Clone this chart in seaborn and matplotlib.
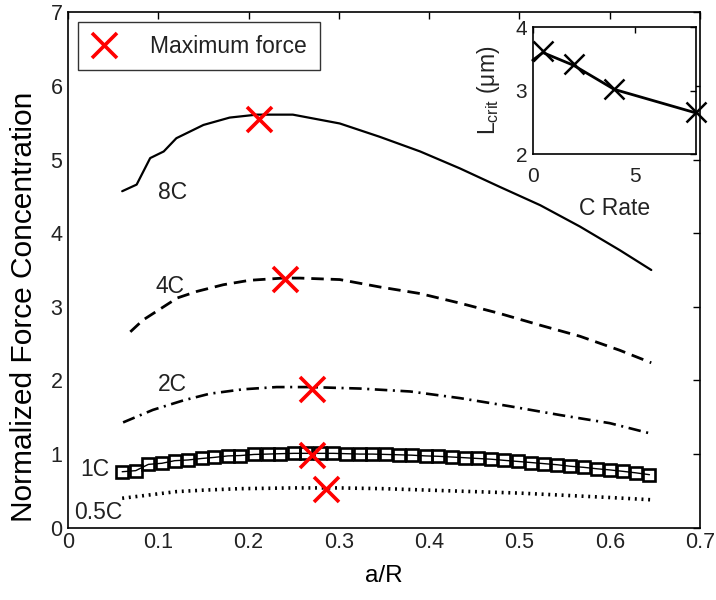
import matplotlib
matplotlib.use("Agg")
import matplotlib.pyplot as plt
import seaborn as sns

# Normalized force concentration vs. a/R for several C rates
a_8c = [0.060, 0.076, 0.091, 0.106, 0.120, 0.150, 0.179, 0.209, 0.249, 0.301, 0.345,
        0.390, 0.434, 0.478, 0.523, 0.567, 0.611, 0.646]
f_8c = [4.57, 4.66, 5.02, 5.11, 5.29, 5.47, 5.57, 5.61, 5.61, 5.49, 5.31,
        5.11, 4.88, 4.63, 4.38, 4.09, 3.77, 3.50]

a_4c = [0.069, 0.083, 0.102, 0.121, 0.143, 0.172, 0.201, 0.238, 0.257, 0.301, 0.345,
        0.390, 0.434, 0.478, 0.523, 0.567, 0.611, 0.646]
f_4c = [2.66, 2.82, 2.97, 3.12, 3.21, 3.30, 3.36, 3.39, 3.39, 3.37, 3.27,
        3.18, 3.05, 2.91, 2.75, 2.60, 2.41, 2.24]

a_2c = [0.061, 0.094, 0.128, 0.157, 0.194, 0.231, 0.268, 0.323, 0.379, 0.434,
        0.489, 0.545, 0.600, 0.645]
f_2c = [1.43, 1.60, 1.73, 1.82, 1.88, 1.91, 1.91, 1.89, 1.85, 1.76,
        1.65, 1.53, 1.42, 1.28]

a_1c = [0.060, 0.075, 0.089, 0.104, 0.118, 0.133, 0.148, 0.162, 0.177, 0.191,
        0.206, 0.221, 0.235, 0.250, 0.264, 0.279, 0.294, 0.308, 0.323, 0.337,
        0.352, 0.367, 0.381, 0.396, 0.410, 0.425, 0.440, 0.454, 0.469, 0.483,
        0.498, 0.513, 0.527, 0.542, 0.556, 0.571, 0.586, 0.600, 0.615, 0.629, 0.644]
f_1c = [0.76, 0.775, 0.86, 0.875, 0.91, 0.92, 0.94, 0.955, 0.975, 0.98,
        0.995, 1.0, 1.005, 1.01, 1.01, 1.01, 1.01, 1.005, 1.0, 1.0,
        0.995, 0.99, 0.985, 0.975, 0.97, 0.96, 0.95, 0.94, 0.93, 0.915,
        0.90, 0.885, 0.87, 0.855, 0.835, 0.82, 0.80, 0.785, 0.765, 0.745, 0.72]

a_05c = [0.060, 0.080, 0.100, 0.120, 0.150, 0.190, 0.250, 0.300, 0.350, 0.400,
         0.450, 0.500, 0.550, 0.600, 0.645]
f_05c = [0.40, 0.43, 0.46, 0.49, 0.51, 0.53, 0.54, 0.54, 0.53, 0.51,
         0.49, 0.47, 0.44, 0.41, 0.38]

# Location of the maximum force on each curve (8C, 4C, 2C, 1C, 0.5C)
max_a = [0.212, 0.240, 0.270, 0.270, 0.286]
max_f = [5.55, 3.375, 1.88, 0.99, 0.53]

# Curve labels
curve_names = ["8C", "4C", "2C", "1C", "0.5C"]
label_a = [0.116, 0.113, 0.116, 0.030, 0.033]
label_f = [4.55, 3.27, 1.94, 0.79, 0.20]

# Inset: critical length vs. C rate
crate_line = [0.0, 0.5, 2.0, 4.0, 8.0]
lcrit_line = [3.48, 3.60, 3.40, 3.02, 2.65]
crate_pts = [0.5, 2.0, 4.0, 8.0]
lcrit_pts = [3.62, 3.42, 3.02, 2.66]

main_xticks = [0, 0.1, 0.2, 0.3, 0.4, 0.5, 0.6, 0.7]
main_yticks = [0, 1, 2, 3, 4, 5, 6, 7]
inset_xticks = [0, 5]
inset_yticks = [2, 3, 4]

sns.set_theme(style="white")
plt.rcParams["font.family"] = ["Liberation Sans", "DejaVu Sans"]
plt.rcParams["mathtext.fontset"] = "custom"
plt.rcParams["mathtext.rm"] = "Liberation Sans"
plt.rcParams["lines.scale_dashes"] = False

fig = plt.figure(figsize=(7.16, 6.0), dpi=100)
ax = fig.add_axes([0.095, 0.1205, 0.8827, 0.859])

lw = 1.6
sns.lineplot(x=a_8c, y=f_8c, ax=ax, color="black", lw=lw, linestyle="-")
sns.lineplot(x=a_4c, y=f_4c, ax=ax, color="black", lw=lw + 0.4,
             linestyle=(0, (9.0, 5.0)))
sns.lineplot(x=a_2c, y=f_2c, ax=ax, color="black", lw=lw + 0.3,
             linestyle=(0, (9.0, 4.0, 1.5, 4.0)))
sns.lineplot(x=a_1c, y=f_1c, ax=ax, color="black", lw=1.0, marker="s",
             markersize=8.3, markerfacecolor="none", markeredgecolor="black",
             markeredgewidth=1.9)
sns.lineplot(x=a_05c, y=f_05c, ax=ax, color="black", lw=2.6,
             linestyle=(0, (1.4, 3.4)), dash_capstyle="butt")

sns.lineplot(x=max_a, y=max_f, ax=ax, color="red", linestyle="none", marker="x",
             markersize=18, markeredgewidth=2.6, markeredgecolor="red",
             label="Maximum force", estimator=None, sort=False)

for name, xa, yf in zip(curve_names, label_a, label_f):
    ax.text(xa, yf, name, fontsize=16.5, color="#222222", ha="center", va="center")

ax.set_xlim(0, 0.7)
ax.set_ylim(0, 7)
ax.set_xticks(main_xticks)
ax.set_xticklabels([f"{t:g}" for t in main_xticks])
ax.set_yticks(main_yticks)
ax.tick_params(direction="in", length=5, width=1, top=True, right=True,
               labelsize=15.5, colors="black", labelcolor="#222222")
ax.tick_params(axis="x", pad=3)
ax.tick_params(axis="y", pad=4)
for s in ax.spines.values():
    s.set_color("black")
    s.set_linewidth(1.2)
ax.set_xlabel("a/R", fontsize=17.5, labelpad=9, color="black")
ax.set_ylabel("Normalized Force Concentration", fontsize=21.5, color="black")
ax.yaxis.set_label_coords(-0.048, 0.428)

leg = ax.legend(loc="upper left", bbox_to_anchor=(0.0158, 0.981), borderaxespad=0,
                fontsize=16.5, frameon=True, fancybox=False, handlelength=1.2,
                handletextpad=1.4, borderpad=0.55, labelcolor="#222222")
leg.get_frame().set_edgecolor("black")
leg.get_frame().set_linewidth(1.0)

# Inset
ins = fig.add_axes([0.744, 0.743, 0.228, 0.2117])
sns.lineplot(x=crate_line, y=lcrit_line, ax=ins, color="black", lw=2.0,
             estimator=None, sort=False)
sns.lineplot(x=crate_pts, y=lcrit_pts, ax=ins, color="black", linestyle="none",
             marker="x", markersize=14, markeredgewidth=1.8,
             markeredgecolor="black", estimator=None)
ins.set_xlim(0, 8)
ins.set_ylim(2, 4)
ins.set_xticks(inset_xticks)
ins.set_yticks(inset_yticks)
ins.tick_params(direction="in", length=4, width=1, top=True, right=True,
                labelsize=15, colors="black", labelcolor="#222222")
ins.tick_params(axis="x", pad=9)
ins.tick_params(axis="y", pad=4)
for s in ins.spines.values():
    s.set_color("black")
    s.set_linewidth(1.2)
ins.set_facecolor("white")
ins.set_xlabel("C Rate", fontsize=16.5, color="#222222", labelpad=8)
ins.set_ylabel(r"L$_{\mathregular{crit}}$ (μm)", fontsize=16.5, color="#222222",
               labelpad=10)
for line in ins.lines:
    line.set_clip_on(False)

fig.savefig("out.png", dpi=100, facecolor="white")
